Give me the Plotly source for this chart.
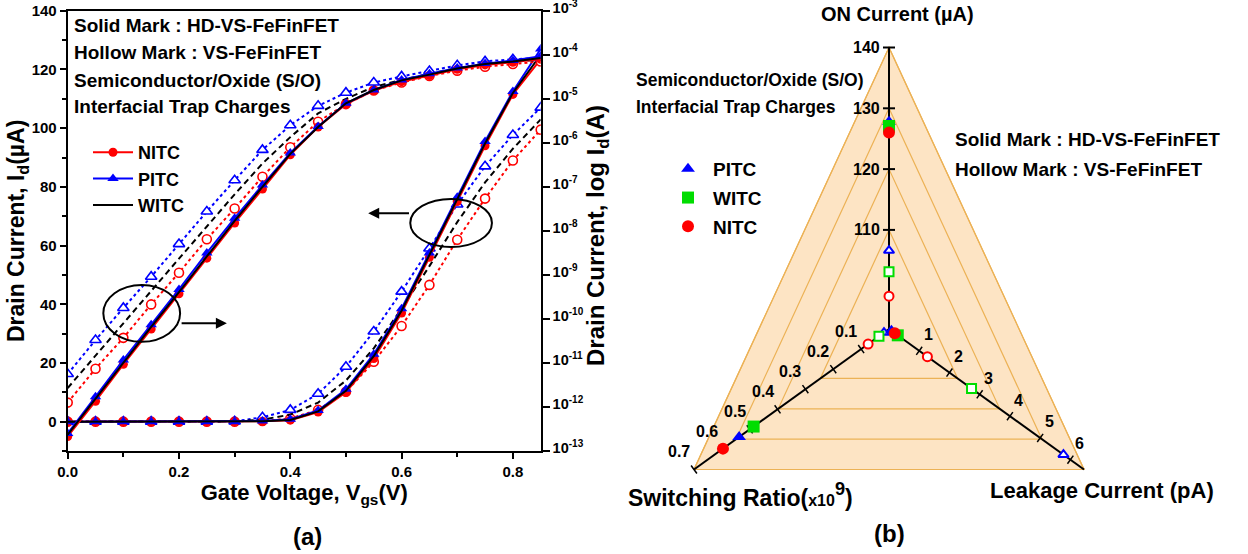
import math
import plotly.graph_objects as go

W, H = 1248, 554
FONT = "Arial, Liberation Sans, sans-serif"

# ---------------- panel (a) data ----------------
vgs = [0.00, 0.05, 0.10, 0.15, 0.20, 0.25, 0.30, 0.35, 0.40, 0.45,
       0.50, 0.55, 0.60, 0.65, 0.70, 0.75, 0.80, 0.85]

# linear drain current (uA), left axis
lin_hd_nitc = [0, 0, 0, 0, 0, 0, 0, 0.1, 0.5, 3.3, 10.0, 21.5, 37.0, 56.0, 75.0, 94.0, 111.5, 123.5]
lin_hd_pitc = [0, 0, 0, 0, 0, 0, 0, 0.2, 0.8, 3.8, 11.0, 23.0, 38.5, 57.5, 76.5, 95.5, 112.5, 127.0]
lin_hd_witc = [0, 0, 0, 0, 0, 0, 0, 0.15, 0.6, 3.5, 10.5, 22.3, 37.8, 56.8, 75.8, 94.8, 112.0, 125.0]
lin_vs_nitc = [0, 0, 0, 0, 0, 0, 0, 0.2, 1.1, 4.0, 10.2, 20.4, 32.6, 46.6, 62.0, 76.0, 89.0, 99.5]
lin_vs_pitc = [0, 0, 0, 0, 0, 0, 0.1, 1.5, 4.0, 9.5, 18.7, 30.7, 44.3, 59.0, 74.0, 87.0, 97.7, 107.0]
lin_vs_witc = [0, 0, 0, 0, 0, 0, 0.05, 0.7, 2.4, 6.5, 14.0, 25.0, 38.5, 53.0, 68.0, 81.5, 93.0, 103.0]

# log10 of drain current (A), right axis
log_hd_nitc = [-12.67, -11.87, -11.03, -10.23, -9.43, -8.62, -7.82, -7.05, -6.27, -5.64,
               -5.12, -4.81, -4.61, -4.47, -4.33, -4.23, -4.17, -4.10]
log_hd_pitc = [-12.60, -11.77, -10.93, -10.13, -9.33, -8.50, -7.71, -6.96, -6.23, -5.63,
               -5.10, -4.80, -4.57, -4.43, -4.30, -4.20, -4.13, -4.03]
log_hd_witc = [-12.63, -11.81, -10.99, -10.18, -9.39, -8.57, -7.77, -7.00, -6.25, -5.64,
               -5.10, -4.80, -4.58, -4.45, -4.31, -4.21, -4.15, -4.07]
log_vs_nitc = [-11.90, -11.13, -10.43, -9.67, -8.95, -8.19, -7.49, -6.77, -6.10, -5.52,
               -5.12, -4.81, -4.63, -4.48, -4.36, -4.27, -4.21, -4.15]
log_vs_pitc = [-11.25, -10.48, -9.75, -9.04, -8.30, -7.56, -6.85, -6.16, -5.60, -5.16,
               -4.86, -4.63, -4.49, -4.37, -4.24, -4.15, -4.10, -4.07]
log_vs_witc = [-11.57, -10.83, -10.10, -9.37, -8.63, -7.90, -7.17, -6.47, -5.87, -5.33,
               -5.00, -4.73, -4.57, -4.43, -4.30, -4.20, -4.15, -4.11]
log_tick_exponents = [-13, -12, -11, -10, -9, -8, -7, -6, -5, -4, -3]

# ---------------- panel (b) data ----------------
radar_names = ["PITC", "WITC", "NITC"]
on_current_hd = [127.8, 127.1, 126.0]     # uA
on_current_vs = [106.6, 103.1, 99.1]
switch_ratio_hd = [0.538, 0.486, 0.596]   # x10^9
switch_ratio_vs = [0.018, 0.036, 0.075]
leakage_hd = [0.08, 0.29, 0.19]           # pA
leakage_vs = [5.77, 2.73, 1.27]
on_ticks = [110, 120, 130, 140]
sr_ticks = [0.1, 0.2, 0.3, 0.4, 0.5, 0.6, 0.7]
lk_ticks = [1, 2, 3, 4, 5, 6]

# ---------------- styles ----------------
RED, BLUE, BLACK, GREEN = "#FF0000", "#0000FF", "#000000", "#00DD00"
radar_colors = [BLUE, GREEN, RED]
radar_symbols = ["triangle-up", "square", "circle"]
FILL = "rgb(253,228,196)"
GRIDC = "rgb(236,178,86)"


def px(x):
    return x / W


def py(y):
    return 1 - y / H


fig = go.Figure()


def add_curve(y, yaxis, color, dash, symbol, filled, name=None, legend=False, rank=None):
    mode = "lines" if symbol is None else "lines+markers"
    marker = None
    if symbol is not None:
        if filled:
            marker = dict(symbol=symbol, size=9 if symbol == "circle" else 10, color=color,
                          line=dict(width=0))
        else:
            marker = dict(symbol=symbol, size=9 if symbol == "circle" else 10, color="white",
                          line=dict(width=1.6, color=color))
    fig.add_trace(go.Scatter(
        x=vgs, y=y, mode=mode, yaxis=yaxis, xaxis="x",
        line=dict(color=color, width=2, dash=dash), marker=marker,
        name=name, showlegend=legend, legend="legend",
        legendrank=rank if rank else 1000, hoverinfo="skip"))


# hollow (VS-FeFinFET)
add_curve(lin_vs_nitc, "y", RED, "dot", "circle", False)
add_curve(lin_vs_pitc, "y", BLUE, "dot", "triangle-up", False)
add_curve(lin_vs_witc, "y", BLACK, "6px,4px", None, False)
add_curve([10 ** v for v in log_vs_nitc], "y2", RED, "dot", "circle", False)
add_curve([10 ** v for v in log_vs_pitc], "y2", BLUE, "dot", "triangle-up", False)
add_curve([10 ** v for v in log_vs_witc], "y2", BLACK, "6px,4px", None, False)
# solid (HD-VS-FeFinFET)
add_curve([10 ** v for v in log_hd_nitc], "y2", RED, "solid", "circle", True)
add_curve([10 ** v for v in log_hd_pitc], "y2", BLUE, "solid", "triangle-up", True)
add_curve([10 ** v for v in log_hd_witc], "y2", BLACK, "solid", None, True)
add_curve(lin_hd_nitc, "y", RED, "solid", "circle", True, "<b>NITC</b>", True, 1)
add_curve(lin_hd_pitc, "y", BLUE, "solid", "triangle-up", True, "<b>PITC</b>", True, 2)
add_curve(lin_hd_witc, "y", BLACK, "solid", None, True, "<b>WITC</b>", True, 3)

# ---------------- panel (b) geometry (x3/y3 are 1 unit = 1 px) ----------------
CX, CY = 889.0, 329.0          # pixel position of the common origin
TOP = (0.0, 281.5)
BL = (-195.0, -140.5)
BR = (195.0, -140.5)
ON_MIN, ON_MAX = 93.7, 140.0
SR_MAX = 0.7
LK_MAX = 6.45


def on_xy(v):
    f = (v - ON_MIN) / (ON_MAX - ON_MIN)
    return TOP[0] * f, TOP[1] * f


def sr_xy(v):
    f = v / SR_MAX
    return BL[0] * f, BL[1] * f


def lk_xy(v):
    f = v / LK_MAX
    return BR[0] * f, BR[1] * f


def tri_path(f):
    pts = [(TOP[0] * f, TOP[1] * f), (BL[0] * f, BL[1] * f), (BR[0] * f, BR[1] * f)]
    return "M{:.2f},{:.2f} L{:.2f},{:.2f} L{:.2f},{:.2f} Z".format(*pts[0], *pts[1], *pts[2])


shapes = []
shapes.append(dict(type="path", xref="x3", yref="y3", path=tri_path(1.0),
                   fillcolor=FILL, line=dict(color=GRIDC, width=1.2), layer="below"))
for v in on_ticks:
    f = (v - ON_MIN) / (ON_MAX - ON_MIN)
    shapes.append(dict(type="path", xref="x3", yref="y3", path=tri_path(f),
                       line=dict(color=GRIDC, width=1.2), layer="below"))
for vx, vy in [TOP, BL, BR]:
    shapes.append(dict(type="line", xref="x3", yref="y3", x0=0, y0=0, x1=vx, y1=vy,
                       line=dict(color="black", width=2), layer="below"))

annotations = []
for v in on_ticks:
    x, y = on_xy(v)
    shapes.append(dict(type="line", xref="x3", yref="y3", x0=x - 6, y0=y, x1=x + 6, y1=y,
                       line=dict(color="black", width=2), layer="below"))
    annotations.append(dict(x=x - 7, y=y, xref="x3", yref="y3", text="<b>%d</b>" % v,
                            showarrow=False, xanchor="right", yanchor="middle",
                            font=dict(size=16, family=FONT, color="black")))
ux, uy = BL[0] / math.hypot(*BL), BL[1] / math.hypot(*BL)
for v in sr_ticks:
    x, y = sr_xy(v)
    shapes.append(dict(type="line", xref="x3", yref="y3", x0=x - 5 * uy, y0=y + 5 * ux,
                       x1=x + 5 * uy, y1=y - 5 * ux, line=dict(color="black", width=1.5),
                       layer="below"))
    annotations.append(dict(x=x - 15, y=y + 18, xref="x3", yref="y3", text="<b>%.1f</b>" % v,
                            showarrow=False, xanchor="center", yanchor="middle",
                            font=dict(size=16, family=FONT, color="black")))
vx_, vy_ = BR[0] / math.hypot(*BR), BR[1] / math.hypot(*BR)
for v in lk_ticks:
    x, y = lk_xy(v)
    shapes.append(dict(type="line", xref="x3", yref="y3", x0=x - 5 * vy_, y0=y + 5 * vx_,
                       x1=x + 5 * vy_, y1=y - 5 * vx_, line=dict(color="black", width=1.5),
                       layer="below"))
    annotations.append(dict(x=x + 9, y=y + 16, xref="x3", yref="y3", text="<b>%d</b>" % v,
                            showarrow=False, xanchor="center", yanchor="middle",
                            font=dict(size=16, family=FONT, color="black")))

for i, nm in enumerate(radar_names):
    pts = [on_xy(on_current_vs[i]), sr_xy(switch_ratio_vs[i]), lk_xy(leakage_vs[i])]
    fig.add_trace(go.Scatter(
        x=[p[0] for p in pts], y=[p[1] for p in pts], xaxis="x3", yaxis="y3", mode="markers",
        marker=dict(symbol=radar_symbols[i], size=9, color="white",
                    line=dict(width=2, color=radar_colors[i])),
        showlegend=False, hoverinfo="skip"))
for i, nm in enumerate(radar_names):
    pts = [on_xy(on_current_hd[i]), sr_xy(switch_ratio_hd[i]), lk_xy(leakage_hd[i])]
    fig.add_trace(go.Scatter(
        x=[p[0] for p in pts], y=[p[1] for p in pts], xaxis="x3", yaxis="y3", mode="markers",
        marker=dict(symbol=radar_symbols[i], size=12, color=radar_colors[i], line=dict(width=0)),
        name="<b>%s</b>" % nm, showlegend=True, legend="legend2",
        legendgroup="g%d" % i, hoverinfo="skip"))

# ---------------- panel (a) decorations ----------------
shapes.append(dict(type="circle", xref="x", yref="y", x0=0.133 - 0.069, x1=0.133 + 0.069,
                   y0=36.9 - 9.7, y1=36.9 + 9.7, line=dict(color="black", width=2)))
shapes.append(dict(type="circle", xref="x", yref="y", x0=0.689 - 0.0734, x1=0.689 + 0.0734,
                   y0=67.7 - 8.2, y1=67.7 + 8.2, line=dict(color="black", width=2)))
annotations.append(dict(x=0.286, y=33.5, ax=0.202, ay=33.5, xref="x", yref="y", axref="x",
                        ayref="y", text="", showarrow=True, arrowhead=2, arrowsize=1.1,
                        arrowwidth=2, arrowcolor="black"))
annotations.append(dict(x=0.54, y=71, ax=0.616, ay=71, xref="x", yref="y", axref="x",
                        ayref="y", text="", showarrow=True, arrowhead=2, arrowsize=1.1,
                        arrowwidth=2, arrowcolor="black"))


def text(xp, yp, s, size, anchor="left", angle=0):
    annotations.append(dict(x=px(xp), y=py(yp), xref="paper", yref="paper", text=s,
                            showarrow=False, xanchor=anchor, yanchor="middle",
                            textangle=angle,
                            font=dict(size=size, family=FONT, color="black")))


text(72, 25.5, "<b>Solid Mark : HD-VS-FeFinFET</b>", 19)
text(72, 52.5, "<b>Hollow Mark : VS-FeFinFET</b>", 19)
text(72, 80, "<b>Semiconductor/Oxide (S/O)</b>", 19)
text(72, 106, "<b>Interfacial Trap Charges</b>", 19)
text(307, 536, "<b>(a)</b>", 24, "center")
# right-axis title of panel (a)
text(597, 236, "<b>Drain Current, log I<sub>d</sub>(A)</b>", 24, "center", -90)

text(897, 14, "<b>ON Current (µA)</b>", 20, "center")
text(634, 80, "<b>Semiconductor/Oxide (S/O)</b>", 17.5)
text(634, 107, "<b>Interfacial Trap Charges</b>", 17.5)
text(953, 139.5, "<b>Solid Mark : HD-VS-FeFinFET</b>", 19)
text(953, 169, "<b>Hollow Mark : VS-FeFinFET</b>", 19)
text(626, 495, "<b>Switching Ratio(<span style='font-size:16px'>x10</span>"
     "<span style='font-size:26px'><sup>9</sup></span>)</b>", 23)
text(988, 490, "<b>Leakage Current (pA)</b>", 22)
text(889, 533, "<b>(b)</b>", 24, "center")

tickfont = dict(size=15, family=FONT, color="black", weight="bold")
titlefont = dict(size=22, family=FONT, color="black")

log_tickvals = [10.0 ** e for e in log_tick_exponents]
log_ticktext = ["<b>10<sup><span style='font-size:10px'>%d</span></sup></b>" % e
                for e in log_tick_exponents]

fig.update_layout(
    template="none",
    width=W, height=H, margin=dict(l=0, r=0, t=0, b=0, pad=0, autoexpand=False),
    paper_bgcolor="white", plot_bgcolor="rgba(0,0,0,0)",
    font=dict(family=FONT, color="black"),
    shapes=shapes, annotations=annotations,
    xaxis=dict(domain=[67.7 / W, 540.7 / W], range=[0, 0.85], anchor="y", automargin=False,
               tickvals=[0, 0.2, 0.4, 0.6, 0.8], tickformat=".1f",
               ticks="outside", ticklen=6, tickwidth=2, tickcolor="black",
               minor=dict(dtick=0.1, tick0=0, ticks="outside", ticklen=4, tickwidth=2,
                          tickcolor="black"),
               showline=True, linewidth=2, linecolor="black", mirror=True,
               showgrid=False, zeroline=False, tickfont=tickfont,
               title=dict(text="<b>Gate Voltage, V<sub>gs</sub>(V)</b>", font=titlefont,
                          standoff=2)),
    yaxis=dict(domain=[1 - 451 / H, 1 - 10.8 / H], range=[-10, 140], anchor="x",
               automargin=False,
               tickvals=[0, 20, 40, 60, 80, 100, 120, 140],
               ticks="outside", ticklen=6, tickwidth=2, tickcolor="black",
               minor=dict(dtick=10, tick0=0, ticks="outside", ticklen=4, tickwidth=2,
                          tickcolor="black"),
               showline=True, linewidth=2, linecolor="black", ticklabeloverflow="allow",
               showgrid=False, zeroline=False, tickfont=tickfont,
               title=dict(text="<b>Drain Current, I<sub>d</sub>(µA)</b>",
                          font=dict(size=23, family=FONT, color="black"), standoff=0)),
    yaxis2=dict(overlaying="y", side="right", anchor="x", type="log", range=[-13, -3],
                automargin=False, ticklabeloverflow="allow", ticklabelshift=-3,
                tickvals=log_tickvals, ticktext=log_ticktext,
                ticks="outside", ticklen=7, tickwidth=2, tickcolor="black",
                showline=True, linewidth=2, linecolor="black",
                showgrid=False, zeroline=False,
                tickfont=dict(size=14.5, family=FONT, color="black")),
    xaxis3=dict(domain=[600 / W, 1.0], range=[600 - CX, W - CX], anchor="y3",
                visible=False, fixedrange=True, automargin=False),
    yaxis3=dict(domain=[0, 1], range=[CY - H, CY], anchor="x3",
                visible=False, fixedrange=True, automargin=False),
    legend=dict(x=px(88), y=py(134), xanchor="left", yanchor="top",
                bgcolor="rgba(0,0,0,0)", itemwidth=40,
                font=dict(size=18, family=FONT, color="black")),
    legend2=dict(x=px(663), y=py(150), xanchor="left", yanchor="top",
                 bgcolor="rgba(0,0,0,0)", itemwidth=40, tracegroupgap=1,
                 font=dict(size=19, family=FONT, color="black")),
)

fig.write_html("out.html", config={"displayModeBar": False},
               post_script="document.body.style.margin='0px';"
                           "document.documentElement.style.overflow='hidden';")
